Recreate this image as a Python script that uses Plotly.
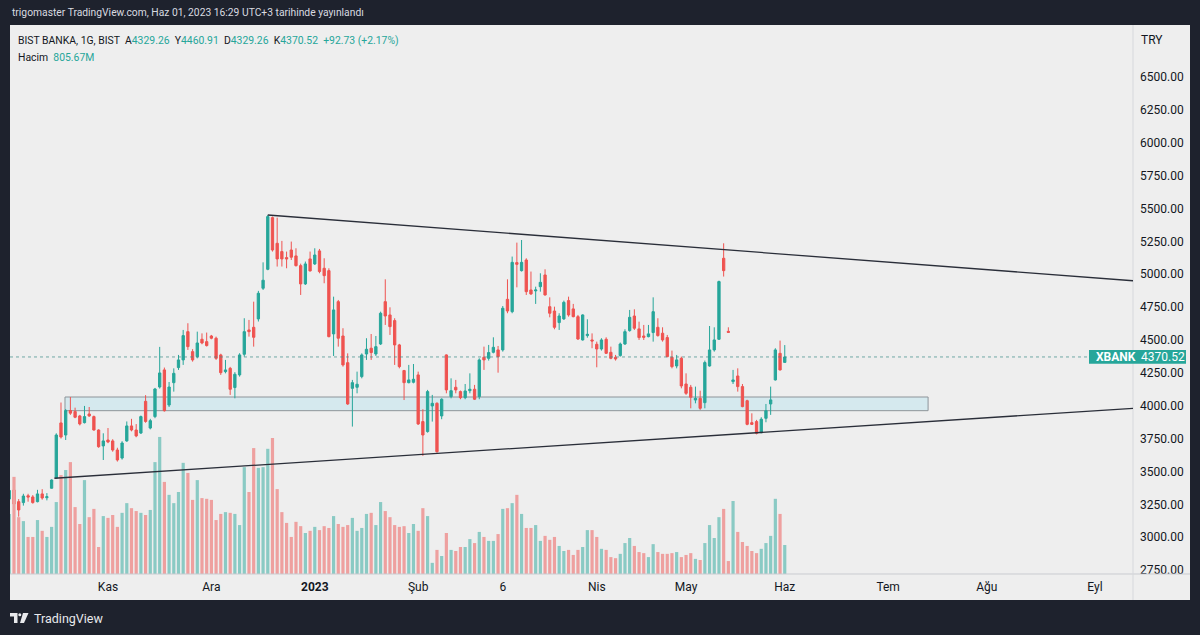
import plotly.graph_objects as go

# daily candles of BIST BANKA (XBANK), Oct 3 2022 .. Jun 1 2023 (trading days only)
opens = [
    3290, 3359, 3270, 3263, 3315, 3306, 3270, 3329, 3300, 3372,
    3450, 3869, 3777, 3963, 3955, 3922, 3871, 3937, 3917, 3815,
    3694, 3739, 3732, 3663, 3602, 3732, 3846, 3815, 3792, 4033,
    3830, 3917, 4142, 4272, 4005, 4175, 4290, 4348, 4563, 4411,
    4373, 4505, 4487, 4530, 4513, 4386, 4259, 4284, 4138, 4234,
    4391, 4576, 4596, 4660, 4893, 5037, 5430, 5235, 5172, 5126,
    5184, 5139, 5065, 4926, 5116, 5078, 5177, 5045, 5027, 4546,
    4791, 4530, 4327, 4132, 4140, 4221, 4393, 4437, 4393, 4469,
    4791, 4690, 4647, 4462, 4267, 4175, 4178, 4234, 3879, 3803,
    3998, 4018, 3922, 4386, 4069, 4140, 4107, 4061, 4114, 4125,
    4069, 4368, 4360, 4406, 4424, 4424, 4809, 4715, 5088, 5027,
    5108, 4880, 4873, 4905, 4994, 4753, 4720, 4632, 4660, 4799,
    4736, 4677, 4500, 4533, 4500, 4467, 4431, 4505, 4406, 4368,
    4381, 4469, 4571, 4682, 4584, 4530, 4525, 4556, 4596, 4551,
    4518, 4368, 4302, 4360, 4165, 4140, 4043, 4056, 4023, 4302,
    4424, 4505, 5121, 4565, 4183, 4226, 4145, 4038, 3871, 3879,
    3795, 3904, 4013, 4196, 4398, 4329.26,
]
highs = [
    3380, 3400, 3290, 3330, 3330, 3320, 3360, 3365, 3335, 3440,
    3790, 4024, 3975, 4066, 3985, 3930, 3998, 3990, 3925, 3820,
    3790, 3830, 3745, 3680, 3730, 3880, 3900, 3860, 3925, 4080,
    3900, 4135, 4447, 4290, 4180, 4284, 4386, 4576, 4627, 4430,
    4563, 4550, 4556, 4538, 4525, 4395, 4348, 4295, 4255, 4399,
    4665, 4652, 4791, 4873, 5090, 5450, 5438, 5430, 5253, 5172,
    5248, 5197, 5080, 5096, 5172, 5197, 5192, 5121, 5045, 4829,
    4804, 4589, 4398, 4196, 4259, 4398, 4513, 4545, 4530, 4715,
    4961, 4748, 4665, 4470, 4272, 4310, 4317, 4259, 3973, 4120,
    4082, 4026, 4056, 4390, 4208, 4196, 4115, 4165, 4246, 4158,
    4360, 4449, 4462, 4520, 4454, 4758, 4961, 5134, 5240, 5260,
    5121, 5020, 4905, 5007, 5037, 4824, 4753, 4703, 4799, 4829,
    4774, 4690, 4695, 4657, 4550, 4487, 4513, 4520, 4449, 4386,
    4480, 4581, 4728, 4733, 4639, 4614, 4614, 4824, 4665, 4596,
    4538, 4419, 4386, 4373, 4246, 4158, 4145, 4114, 4343, 4606,
    4596, 4951, 5235, 4596, 4272, 4284, 4165, 4045, 3942, 3892,
    3912, 4013, 4145, 4437, 4495, 4460.91,
]
lows = [
    3270, 3240, 3156, 3240, 3270, 3255, 3265, 3285, 3280, 3370,
    3445, 3750, 3739, 3930, 3905, 3850, 3865, 3915, 3810, 3680,
    3587, 3715, 3650, 3575, 3590, 3725, 3805, 3760, 3785, 3870,
    3820, 3905, 4130, 3955, 3990, 4107, 4272, 4310, 4424, 4335,
    4360, 4467, 4450, 4505, 4348, 4234, 4246, 4082, 4056, 4221,
    4373, 4525, 4449, 4640, 4880, 5030, 5172, 5058, 5058, 5045,
    5108, 5058, 4842, 4918, 5020, 5070, 5007, 4931, 4520, 4378,
    4449, 4297, 4006, 3841, 4094, 4208, 4348, 4348, 4378, 4462,
    4614, 4538, 4310, 4284, 4043, 4170, 4170, 3853, 3618, 3795,
    3879, 3643, 3897, 4094, 4056, 4094, 4049, 4049, 4094, 4043,
    4049, 4272, 4343, 4398, 4251, 4411, 4703, 4703, 4900, 5020,
    4842, 4842, 4774, 4867, 4837, 4672, 4581, 4576, 4652, 4677,
    4672, 4500, 4495, 4517, 4437, 4292, 4419, 4393, 4353, 4343,
    4373, 4462, 4563, 4576, 4500, 4500, 4520, 4487, 4525, 4487,
    4368, 4284, 4284, 4132, 4082, 3980, 4018, 3968, 3980, 4297,
    4411, 4500, 4982, 4556, 4165, 4107, 3988, 3851, 3853, 3782,
    3790, 3874, 3930, 4191, 4267, 4329.26,
]
closes = [
    3355, 3252, 3207, 3313, 3305, 3263, 3329, 3298, 3308, 3435,
    3777, 3762, 3963, 3943, 3912, 3861, 3917, 3922, 3815, 3688,
    3732, 3724, 3663, 3587, 3716, 3846, 3815, 3770, 3917, 3880,
    3886, 4127, 4249, 3962, 4142, 4246, 4348, 4533, 4449, 4348,
    4477, 4477, 4457, 4513, 4360, 4251, 4272, 4125, 4239, 4386,
    4563, 4563, 4520, 4855, 4954, 5438, 5184, 5116, 5116, 5116,
    5129, 5065, 4926, 5078, 5025, 5146, 5020, 4989, 4525, 4728,
    4513, 4310, 4013, 4175, 4163, 4386, 4429, 4404, 4449, 4703,
    4682, 4601, 4462, 4297, 4175, 4196, 4201, 3861, 3777, 4107,
    4018, 3650, 4049, 4120, 4114, 4120, 4061, 4112, 4125, 4049,
    4348, 4348, 4404, 4444, 4373, 4741, 4720, 5090, 5075, 5090,
    4867, 4850, 4880, 4938, 4842, 4703, 4596, 4682, 4786, 4690,
    4677, 4507, 4690, 4543, 4492, 4431, 4500, 4398, 4360, 4355,
    4469, 4563, 4672, 4589, 4518, 4520, 4546, 4715, 4533, 4500,
    4373, 4297, 4348, 4150, 4094, 4064, 4056, 3980, 4328, 4424,
    4500, 4944, 5027, 4558, 4196, 4145, 3993, 3858, 3858, 3790,
    3897, 3962, 4044, 4424, 4272, 4370.52,
]
# volume, millions
volumes = [
    1670, 2700, 1580, 1470, 1030, 1030, 1500, 1200, 1030, 1310,
    2000, 2750, 2890, 3110, 1860, 1390, 2610, 1580, 1810, 750,
    1610, 1560, 1640, 1310, 1700, 1970, 1830, 1750, 1700, 1640,
    1780, 3110, 3810, 2560, 2200, 1970, 2280, 3090, 2810, 2060,
    2610, 2110, 2090, 2060, 1500, 1670, 1720, 1700, 1670, 1360,
    2970, 2280, 3500, 2950, 2970, 3480, 3780, 2360, 1720, 1420,
    1030, 1450, 1330, 1140, 1200, 1310, 1220, 1330, 1280, 1610,
    1390, 1310, 1360, 1560, 1200, 1280, 1670, 1700, 1360, 2000,
    1750, 1580, 1360, 1310, 1330, 1140, 1390, 1200, 1830, 1610,
    310, 670, 500, 1140, 670, 640, 750, 750, 970, 860,
    1170, 1030, 920, 920, 1110, 1810, 1830, 1970, 2200, 1670,
    1280, 1280, 1360, 920, 1060, 950, 1030, 780, 640, 670,
    530, 670, 750, 1220, 1220, 1030, 700, 670, 470, 440,
    560, 860, 1000, 780, 610, 580, 470, 830, 610, 560,
    560, 580, 610, 470, 530, 580, 420, 390, 860, 1360,
    1000, 1580, 1810, 360, 2030, 1170, 890, 780, 640, 580,
    700, 860, 1060, 2090, 1670, 805.67,
]

month_ticks = [21, 43, 65, 87, 105, 125, 144, 165, 187, 208, 231]
month_labels = ["Kas", "Ara", "<b>2023</b>", "Şub", "6", "Nis", "May", "Haz", "Tem", "Ağu", "Eyl"]
price_ticks = [2750, 3000, 3250, 3500, 3750, 4000, 4250, 4500, 4750,
               5000, 5250, 5500, 5750, 6000, 6250, 6500]

# drawings on the chart
upper_trend = ([55, 239.1], [5450, 4950])
lower_trend = ([9.6, 239.1], [3448, 3980])
zone = (11.85, 195.5, 3962, 4066)
last_price = 4370.52

UP, DOWN = "#26a69a", "#ef5350"
UP_VOL, DOWN_VOL = "#8acac4", "#eea09f"
DARK = "#1e222d"
PANE = "#eeeeee"
TEXT = "#131722"
FONT = "Roboto"

W, H = 1200, 635
L, R, T, B = 10, 67, 25, 61


def px(x):
    return (x - L) / (W - L - R)


def py(y):
    return (H - B - y) / (H - T - B)


x = list(range(len(closes)))
vol_colors = [UP_VOL if c >= o else DOWN_VOL for o, c in zip(opens, closes)]

fig = go.Figure()
fig.add_trace(go.Bar(x=x, y=volumes, yaxis="y2", marker_color=vol_colors,
                     marker_line_width=0, width=0.68, hoverinfo="skip"))
fig.add_trace(go.Candlestick(
    x=x, open=opens, high=highs, low=lows, close=closes,
    increasing=dict(line=dict(color=UP, width=1), fillcolor=UP),
    decreasing=dict(line=dict(color=DOWN, width=1), fillcolor=DOWN),
    whiskerwidth=0,
))

shapes = [
    # light pane behind everything
    dict(type="rect", xref="paper", yref="paper", x0=0, x1=px(1190), y0=py(600), y1=1,
         fillcolor=PANE, line_width=0, layer="below"),
    # axis separators
    dict(type="line", xref="paper", yref="paper", x0=0, x1=px(1190), y0=0, y1=0,
         line=dict(color="#c9cbd0", width=1)),
    dict(type="line", xref="paper", yref="paper", x0=1, x1=1, y0=py(600), y1=1,
         line=dict(color="#d6d8dc", width=1)),
    # zone
    dict(type="rect", x0=zone[0], x1=zone[1], y0=zone[2], y1=zone[3],
         fillcolor="#d5e9ee", line=dict(color="#8e9499", width=1), layer="below"),
    # trend lines
    dict(type="line", x0=upper_trend[0][0], x1=upper_trend[0][1],
         y0=upper_trend[1][0], y1=upper_trend[1][1], line=dict(color="#2a2e39", width=1.3)),
    dict(type="line", x0=lower_trend[0][0], x1=lower_trend[0][1],
         y0=lower_trend[1][0], y1=lower_trend[1][1], line=dict(color="#2a2e39", width=1.3)),
    # last price line
    dict(type="line", xref="paper", x0=0, x1=1, y0=last_price, y1=last_price,
         line=dict(color="rgba(60,140,135,0.7)", width=1, dash="dot")),
    # last price label box
    dict(type="rect", xref="paper", x0=px(1089), x1=px(1186), y0=last_price - 52, y1=last_price + 52,
         fillcolor=UP, line_width=0),
    # TradingView logo
    dict(type="path", xref="paper", yref="paper",
         path=f"M {px(10)},{py(613)} L {px(17.5)},{py(613)} L {px(17.5)},{py(623)} "
              f"L {px(14)},{py(623)} L {px(14)},{py(616.5)} L {px(10)},{py(616.5)} Z",
         fillcolor="#e8e9ec", line_width=0),
    dict(type="circle", xref="paper", yref="paper", x0=px(18.3), x1=px(21.3), y0=py(613.2), y1=py(616.2),
         fillcolor="#e8e9ec", line_width=0),
    dict(type="path", xref="paper", yref="paper",
         path=f"M {px(23)},{py(613)} L {px(28.5)},{py(613)} L {px(24)},{py(623)} L {px(20)},{py(623)} Z",
         fillcolor="#e8e9ec", line_width=0),
]


def teal(s):
    return f'<span style="color:{UP}">{s}</span>'


sp = "\u00a0\u00a0"
legend1 = ("BIST BANKA, 1G, BIST" + sp + "A" + teal("4329.26") + sp + "Y" + teal("4460.91")
           + sp + "D" + teal("4329.26") + sp + "K" + teal("4370.52") + sp + teal("+92.73 (+2.17%)"))
legend2 = "Hacim" + sp + teal("805.67M")

annotations = [
    dict(text="trigomaster TradingView.com, Haz 01, 2023 16:29 UTC+3 tarihinde yayınlandı",
         xref="paper", yref="paper", x=0, y=py(13), xanchor="left", yanchor="middle",
         showarrow=False, font=dict(color="#d9dbe0", size=10.3, family=FONT)),
    dict(text=legend1, xref="paper", yref="paper", x=px(16), y=py(41), xanchor="left", yanchor="middle",
         showarrow=False, font=dict(color=TEXT, size=10.4, family=FONT)),
    dict(text=legend2, xref="paper", yref="paper", x=px(16), y=py(57), xanchor="left", yanchor="middle",
         showarrow=False, font=dict(color=TEXT, size=10.4, family=FONT)),
    dict(text="TRY", xref="paper", yref="paper", x=px(1139), y=py(40), xanchor="left", yanchor="middle",
         showarrow=False, font=dict(color=TEXT, size=12, family=FONT)),
    dict(text="<b>XBANK</b>", xref="paper", x=px(1094), y=last_price, xanchor="left", yanchor="middle",
         showarrow=False, font=dict(color="white", size=12, family=FONT)),
    dict(text="4370.52", xref="paper", x=px(1139), y=last_price, xanchor="left", yanchor="middle",
         showarrow=False, font=dict(color="white", size=12, family=FONT)),
    dict(text="TradingView", xref="paper", yref="paper", x=px(32), y=py(618), xanchor="left",
         yanchor="middle", showarrow=False, font=dict(color="#e8e9ec", size=12.5, family=FONT)),
]

fig.update_layout(
    width=W, height=H,
    margin=dict(l=L, r=R, t=T, b=B),
    paper_bgcolor=DARK, plot_bgcolor=PANE,
    showlegend=False, boxgap=0.3,
    font=dict(family=FONT, color=TEXT, size=12),
    xaxis=dict(range=[0.15, 239.1], tickvals=month_ticks, ticktext=month_labels,
               showgrid=False, zeroline=False, showline=False, ticks="",
               ticklabelstandoff=4, rangeslider=dict(visible=False),
               tickfont=dict(size=12, color=TEXT), fixedrange=True),
    yaxis=dict(range=[2720, 6895], side="right", tickvals=price_ticks, tickformat=".2f",
               showgrid=False, zeroline=False, showline=False, ticks="",
               ticklabelstandoff=6, tickfont=dict(size=12, color=TEXT)),
    yaxis2=dict(range=[0, 15260], overlaying="y", visible=False),
    shapes=shapes, annotations=annotations,
)

fig.write_html("out.html", config={"displayModeBar": False},
               post_script="document.body.style.margin = '0';")
